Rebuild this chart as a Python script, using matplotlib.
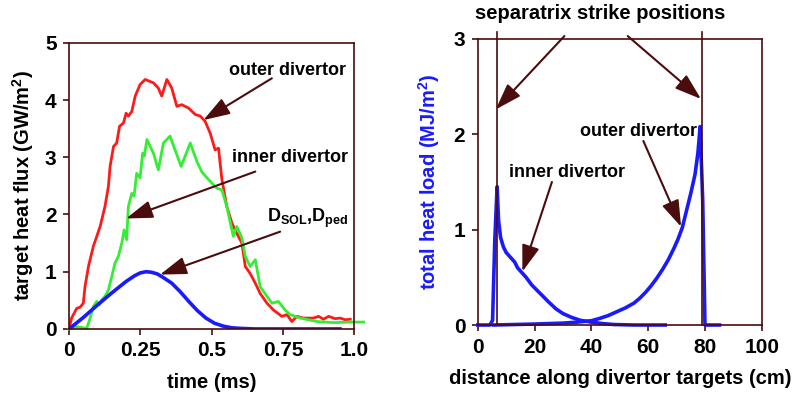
import matplotlib
matplotlib.use("Agg")
import matplotlib.pyplot as plt

plt.rcParams['font.family'] = ['Liberation Sans', 'DejaVu Sans']
plt.rcParams['font.weight'] = 'bold'

# left panel: target heat flux vs time
t_outer = [0, 0.009, 0.027, 0.039, 0.05, 0.056, 0.068, 0.085, 0.109, 0.126, 0.138, 0.144, 0.156,
           0.167, 0.177, 0.191, 0.2, 0.208, 0.22, 0.232, 0.249, 0.267, 0.296, 0.313, 0.325, 0.343,
           0.36, 0.378, 0.395, 0.419, 0.442, 0.46, 0.477, 0.495, 0.512, 0.524, 0.536, 0.553, 0.571,
           0.588, 0.606, 0.618, 0.635, 0.653, 0.67, 0.694, 0.717, 0.746, 0.764, 0.781, 0.799, 0.822,
           0.857, 0.875, 0.892, 0.91, 0.933, 0.951, 0.968, 0.986]
q_outer = [0, 0.19, 0.36, 0.38, 0.45, 0.74, 1.09, 1.44, 1.79, 2.14, 2.49, 2.84, 3.19,
           3.25, 3.54, 3.6, 3.77, 3.72, 3.8, 4.07, 4.27, 4.36, 4.3, 4.21, 4.07, 4.36,
           4.21, 3.89, 3.92, 3.86, 3.75, 3.72, 3.63, 3.42, 3.13, 3.16, 2.61, 2.14, 1.85,
           1.67, 1.5, 1.09, 0.97, 0.8, 0.62, 0.45, 0.33, 0.22, 0.25, 0.13, 0.22, 0.19,
           0.19, 0.22, 0.17, 0.22, 0.18, 0.19, 0.16, 0.17]

t_inner = [0, 0.027, 0.062, 0.074, 0.085, 0.097, 0.106, 0.115, 0.126, 0.138, 0.15, 0.161, 0.173,
           0.185, 0.193, 0.202, 0.208, 0.22, 0.228, 0.237, 0.249, 0.258, 0.264, 0.273, 0.296,
           0.313, 0.331, 0.354, 0.393, 0.425, 0.448, 0.465, 0.489, 0.518, 0.536, 0.553, 0.576,
           0.588, 0.606, 0.618, 0.635, 0.653, 0.67, 0.694, 0.711, 0.734, 0.758, 0.775, 0.811,
           0.869, 0.927, 0.986, 1.033]
q_inner = [0, 0.04, 0.01, 0.19, 0.39, 0.48, 0.42, 0.51, 0.57, 0.68, 0.92, 1.15, 1.27,
           1.5, 1.73, 1.56, 2.14, 2.37, 2.32, 2.72, 2.64, 3.07, 3.02, 3.31, 3.07,
           2.78, 3.25, 3.37, 2.84, 3.25, 2.93, 2.75, 2.61, 2.46, 2.43, 2.14, 1.62,
           1.79, 1.59, 1.27, 1.09, 1.21, 0.74, 0.57, 0.45, 0.48, 0.33, 0.25, 0.19,
           0.13, 0.11, 0.12, 0.12]

t_diff = [0, 0.05, 0.1, 0.15, 0.2, 0.23, 0.25, 0.27, 0.29, 0.31, 0.33, 0.36, 0.39, 0.42,
          0.45, 0.48, 0.51, 0.54, 0.57, 0.6, 0.65, 0.75, 0.95]
q_diff = [0, 0.2, 0.42, 0.63, 0.83, 0.93, 0.98, 1.0, 0.99, 0.96, 0.9, 0.8, 0.65, 0.48,
          0.32, 0.19, 0.1, 0.05, 0.02, 0.01, 0.0, 0.0, 0.0]

# right panel: total heat load vs distance
x_in = [0, 4.3, 5.2, 6.0, 6.8, 7.3, 8, 9, 10, 11.5, 13, 14, 15.5, 17, 19, 21, 23, 25, 27.5,
        30, 33, 36, 40, 44, 48, 55, 66]
w_in = [0, 0, 0.05, 0.9, 1.45, 1.1, 0.92, 0.82, 0.76, 0.71, 0.66, 0.6, 0.55, 0.5, 0.42, 0.36,
        0.3, 0.24, 0.17, 0.12, 0.08, 0.05, 0.03, 0.015, 0.005, 0.0, 0.0]

x_out = [5.5, 20, 30, 35, 40, 43, 46, 49, 52, 55, 57, 59, 61, 63, 65, 67, 69, 70.5, 72, 73.5,
         75, 76.5, 77.5, 78.3, 79.2, 80, 85.1]
w_out = [0, 0.01, 0.02, 0.03, 0.045, 0.07, 0.1, 0.14, 0.18, 0.23, 0.28, 0.34, 0.41, 0.49, 0.58,
         0.68, 0.8, 0.9, 1.02, 1.2, 1.38, 1.58, 1.8, 2.08, 1.31, 0.0, 0.0]

sep_pos = [6.6, 78.8]

dark = '#4a0c0c'
red = '#ff1a1a'
green = '#33ee33'
blue = '#1a1aff'
fs = 14.5
fs_tick = 15
fs_note = 13

fig = plt.figure(figsize=(7.99, 3.93), dpi=100)
ax1 = fig.add_axes([0.0864, 0.163, 0.357, 0.728])
ax2 = fig.add_axes([0.598, 0.173, 0.3554, 0.728])

arrow = dict(arrowstyle='-|>,head_length=0.9,head_width=0.3', color=dark, lw=1.5,
             mutation_scale=18, shrinkA=0, shrinkB=0)

for ax in (ax1, ax2):
    for s in ax.spines.values():
        s.set_color(dark)
        s.set_linewidth(1.2)
    ax.tick_params(colors=dark, labelcolor='black', labelsize=fs_tick, length=4, width=1.2, pad=5)

# left
ax1.plot(t_outer, q_outer, color=red, lw=2.0)
ax1.plot(t_inner, q_inner, color=green, lw=2.0, clip_on=False)
ax1.plot(t_diff, q_diff, color=blue, lw=2.6)
ax1.set_xlim(0, 1.0)
ax1.set_ylim(0, 5)
ax1.set_xticks([0, 0.25, 0.5, 0.75, 1.0])
ax1.set_xticklabels(['0', '0.25', '0.5', '0.75', '1.0'], fontweight='bold')
ax1.set_yticks([0, 1, 2, 3, 4, 5])
ax1.set_yticklabels(['0', '1', '2', '3', '4', '5'], fontweight='bold')
ax1.set_xlabel('time (ms)', fontsize=fs, fontweight='bold', labelpad=9)
ax1.set_ylabel('target heat flux (GW/m$^\\mathregular{2}$)', fontsize=fs, fontweight='bold',
               labelpad=6)

ax1.text(0.765, 4.52, 'outer divertor', fontsize=fs_note, fontweight='bold', ha='center', va='center')
ax1.annotate('', xy=(0.471, 3.65), xytext=(0.711, 4.38), arrowprops=arrow)
ax1.text(0.775, 3.0, 'inner divertor', fontsize=fs_note, fontweight='bold', ha='center', va='center')
ax1.annotate('', xy=(0.2, 1.93), xytext=(0.653, 2.75), arrowprops=arrow)
ax1.text(0.694, 1.94, 'D$_\\mathregular{SOL}$,D$_\\mathregular{ped}$', fontsize=fs_note,
         fontweight='bold', ha='left', va='center')
ax1.annotate('', xy=(0.319, 0.95), xytext=(0.74, 1.7), arrowprops=arrow)

# right
ax2.plot(x_in, w_in, color=blue, lw=2.6, clip_on=False)
ax2.plot(x_out, w_out, color=blue, lw=2.6, clip_on=False)
for xs in sep_pos:
    ax2.axvline(xs, ymin=0, ymax=1.023, color=dark, lw=1.2, clip_on=False)
ax2.set_xlim(0, 100)
ax2.set_ylim(0, 3)
ax2.set_xticks([0, 20, 40, 60, 80, 100])
ax2.set_xticklabels(['0', '20', '40', '60', '80', '100'], fontweight='bold')
ax2.set_yticks([0, 1, 2, 3])
ax2.set_yticklabels(['0', '1', '2', '3'], fontweight='bold')
ax2.set_xlabel('distance along divertor targets (cm)', fontsize=fs, fontweight='bold', labelpad=9)
ax2.set_ylabel('total heat load (MJ/m$^\\mathregular{2}$)', fontsize=fs, fontweight='bold',
               color=blue, labelpad=8)

ax2.text(43.1, 3.27, 'separatrix strike positions', fontsize=fs, fontweight='bold',
         ha='center', va='center', clip_on=False)
ax2.annotate('', xy=(6.3, 2.26), xytext=(30.5, 3.03), arrowprops=arrow, annotation_clip=False)
ax2.annotate('', xy=(78.6, 2.37), xytext=(52.8, 3.03), arrowprops=arrow, annotation_clip=False)
ax2.text(56.6, 2.03, 'outer divertor', fontsize=fs_note, fontweight='bold', ha='center', va='center')
ax2.annotate('', xy=(71.6, 1.03), xytext=(58.3, 1.93), arrowprops=arrow)
ax2.text(31.3, 1.6, 'inner divertor', fontsize=fs_note, fontweight='bold', ha='center', va='center')
ax2.annotate('', xy=(15.7, 0.56), xytext=(26.1, 1.5), arrowprops=arrow)

fig.savefig('out.png', dpi=100)
